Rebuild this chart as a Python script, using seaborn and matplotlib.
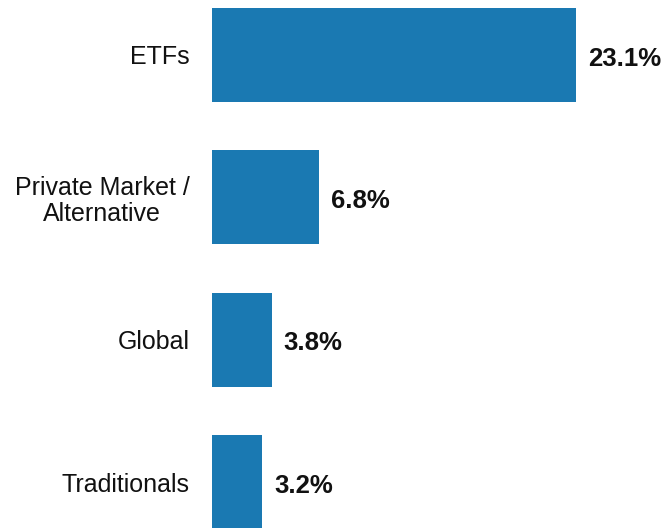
import numpy as np
import pandas as pd
import matplotlib
matplotlib.use("Agg")
import matplotlib.pyplot as plt
import seaborn as sns

categories = ["ETFs", "Private Market /\nAlternative", "Global", "Traditionals"]
growth = [23.1, 6.8, 3.8, 3.2]
value_labels = ["23.1%", "6.8%", "3.8%", "3.2%"]

sns.set_style("white")
plt.rcParams["font.family"] = ["Liberation Sans", "DejaVu Sans"]

df = pd.DataFrame({"category": categories, "growth": growth})

fig = plt.figure(figsize=(6.62, 5.28), dpi=100)
ax = fig.add_axes([212 / 662, 0, 450 / 662, 1])
sns.barplot(data=df, x="growth", y="category", orient="h", color="#1a79b2",
            saturation=1, width=0.66, linewidth=0, ax=ax)

for i, (v, lab) in enumerate(zip(growth, value_labels)):
    ax.text(v + 0.75, i + 0.025, lab, va="center", ha="left", fontsize=18.5,
            fontweight="bold", color="#111111")

ax.set_xlim(0, 28.55)
ax.set_ylim(3.32, -0.386)
ax.set_xlabel("")
ax.set_ylabel("")
ax.set_xticks([])
ax.tick_params(axis="y", length=0, pad=16, labelsize=18, labelcolor="#111111")
for lbl in ax.get_yticklabels():
    lbl.set_horizontalalignment("right")
    lbl.set_multialignment("center")
    lbl.set_linespacing(1.1)
sns.despine(ax=ax, left=True, bottom=True)

plt.savefig("out.png", dpi=100)
plt.close()
